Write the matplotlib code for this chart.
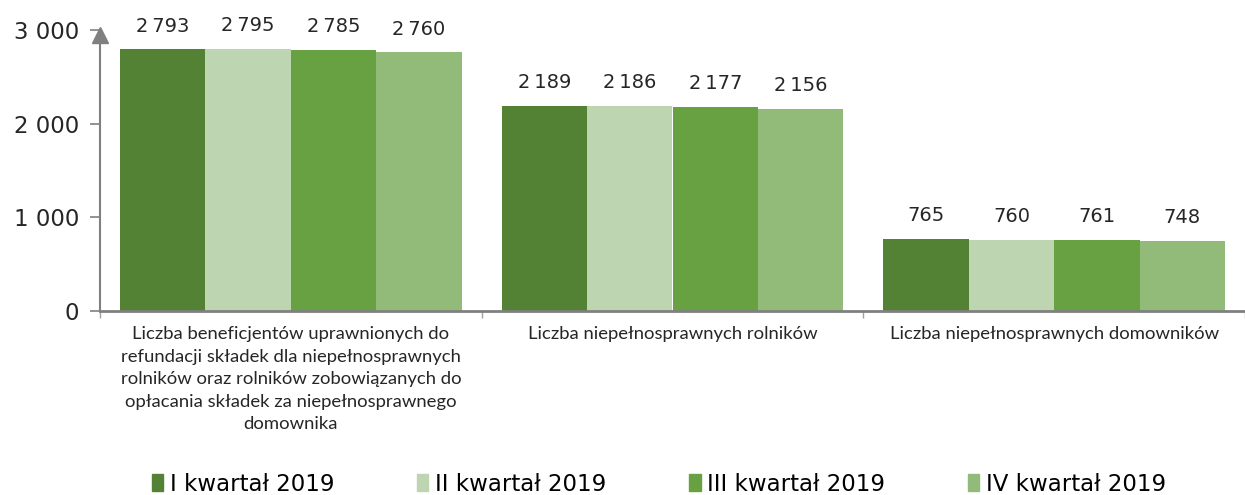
import numpy as np
import matplotlib.pyplot as plt
from matplotlib.patches import Patch

# dane
categories = [
    "Liczba beneficjentów uprawnionych do\nrefundacji składek dla niepełnosprawnych\n"
    "rolników oraz rolników zobowiązanych do\nopłacania składek za niepełnosprawnego\ndomownika",
    "Liczba niepełnosprawnych rolników",
    "Liczba niepełnosprawnych domowników",
]
series = ["I kwartał 2019", "II kwartał 2019", "III kwartał 2019", "IV kwartał 2019"]
q1 = [2793, 2189, 765]
q2 = [2795, 2186, 760]
q3 = [2785, 2177, 761]
q4 = [2760, 2156, 748]
yticks = [0, 1000, 2000, 3000]

colors = ["#548235", "#BDD5B1", "#68A142", "#92BB7A"]
grey = "#808080"
txt = "#262626"

fig = plt.figure(figsize=(12.45, 4.95), dpi=100)
ax = fig.add_axes([100 / 1245, 184 / 495, 1145 / 1245, 281 / 495])

x = np.arange(len(categories))
w = 0.2237
for i, (vals, c) in enumerate(zip([q1, q2, q3, q4], colors)):
    pos = x + (i - 1.5) * w
    ax.bar(pos, vals, width=w, color=c, zorder=2)
    for xp, v in zip(pos, vals):
        ax.annotate(f"{v:,}".replace(",", "\u2009"), (xp, v), xytext=(0, 10),
                    textcoords="offset points", ha="center", va="bottom",
                    fontsize=14, color=txt)

ax.set_xlim(-0.5, -0.5 + 1145 / 385.5)
ax.set_ylim(0, 3000)
ax.set_yticks(yticks)
ax.set_yticklabels([f"{v:,}".replace(",", " ") for v in yticks], fontsize=16.5, color=txt)
ax.tick_params(axis="y", length=7, color=grey, width=1.2, pad=8)

# kreski między kategoriami
ax.set_xticks(np.arange(-0.5, 3, 1.0))
ax.set_xticklabels([])
ax.tick_params(axis="x", length=5, color="#A0A0A0", width=1)
for xc, lab in zip(x, categories):
    ax.text(xc, -0.055, lab, transform=ax.get_xaxis_transform(), ha="center", va="top",
            fontsize=13.3, family="Lato", color=txt, linespacing=1.5)

for s in ["top", "right"]:
    ax.spines[s].set_visible(False)
ax.spines["left"].set_color(grey)
ax.spines["left"].set_linewidth(1.5)
ax.spines["bottom"].set_color(grey)
ax.spines["bottom"].set_linewidth(2)
ax.plot(0, 0.983, marker="^", color=grey, markersize=11, transform=ax.transAxes, clip_on=False)

handles = [Patch(color=c) for c in colors]
fig.legend(handles, series, loc="center", bbox_to_anchor=(659 / 1245, 0.022), ncol=4,
           frameon=False, handlelength=0.5, handleheight=0.75, handletextpad=0.3,
           columnspacing=3.6, prop={"family": "DejaVu Sans", "size": 16.5})

fig.savefig("out.png", dpi=100)
